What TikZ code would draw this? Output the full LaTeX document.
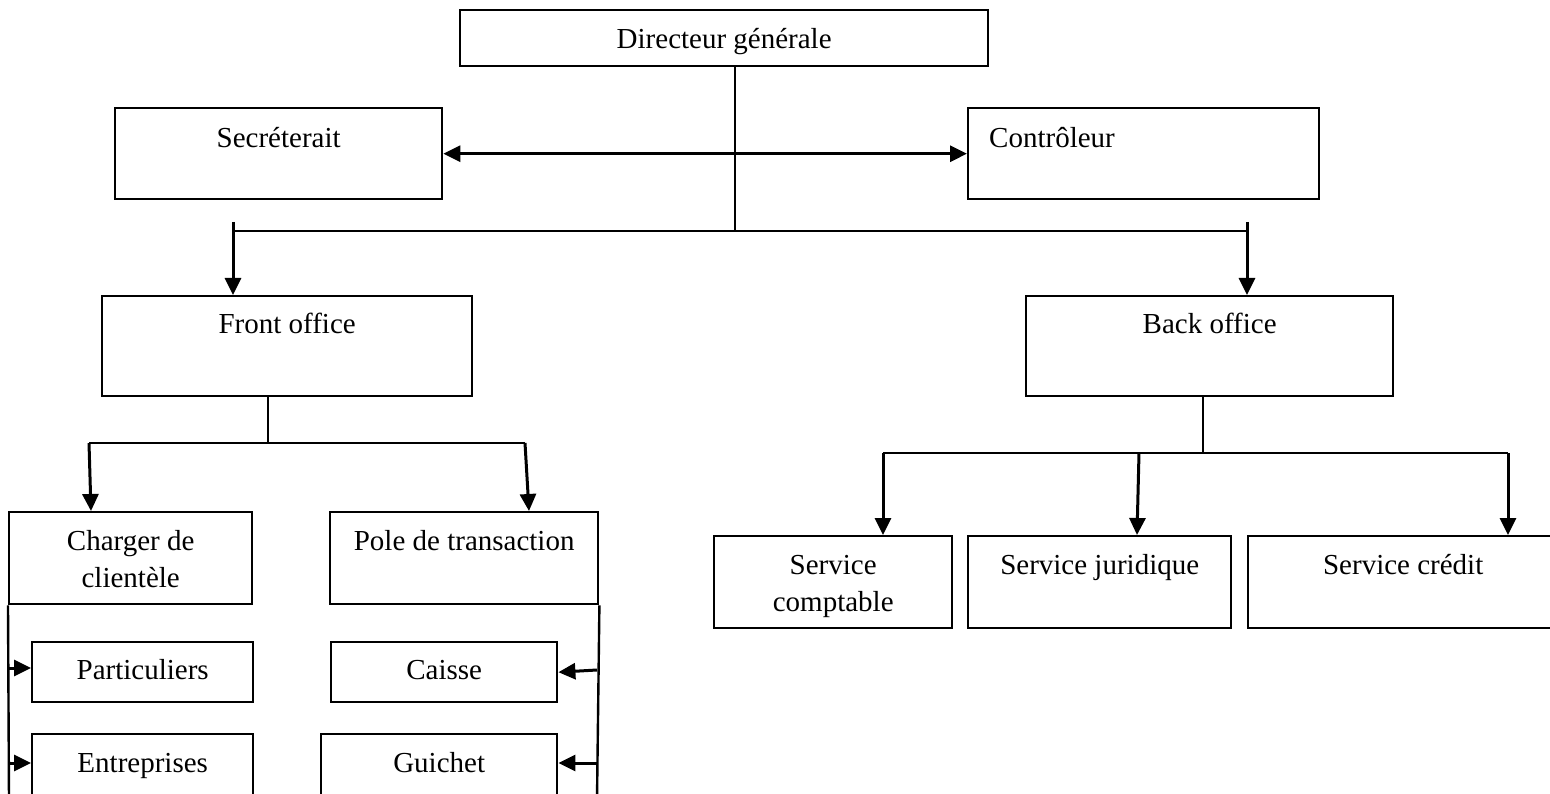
\documentclass[tikz,border=0pt]{standalone}
\usepackage{fontspec}
\setmainfont{Liberation Serif}
\usetikzlibrary{arrows.meta}
\newcommand{\tb}[4]{\parbox[c][#2pt][t]{#1pt}{\centering\vspace*{\dimexpr#3pt-0.7\baselineskip\relax}\strut #4}}
\newcommand{\tbl}[5]{\parbox[c][#2pt][t]{#1pt}{\raggedright\vspace*{\dimexpr#3pt-0.7\baselineskip\relax}\strut\hspace*{#4pt}#5}}
\tikzset{
  box/.style={draw, line width=2.4pt, inner sep=0pt, anchor=north west, font=\fontsize{29}{37}\selectfont},
  ln/.style={line width=2pt},
  arr/.style={line width=3pt, -{Triangle[length=17pt,width=16pt]}},
  darr/.style={line width=3pt, {Triangle[length=17pt,width=16pt]}-{Triangle[length=17pt,width=16pt]}}
}
\begin{document}
\begin{tikzpicture}[x=1pt,y=-1pt]
\useasboundingbox (0,0) rectangle (1550,794);
\clip (0,0) rectangle (1550,794);
% boxes
\node[box] (dg) at (459,9) {\tb{528}{56}{38}{Directeur générale}};
\node[box] (sec) at (114,107) {\tb{327}{91}{39}{Secréterait}};
\node[box] (ctrl) at (967,107) {\tbl{351}{91}{39}{21}{Contrôleur}};
\node[box] (fo) at (101,295) {\tb{370}{100}{37}{Front office}};
\node[box] (bo) at (1025,295) {\tb{367}{100}{37}{Back office}};
\node[box] (ch) at (8,511) {\tb{243}{92}{38}{Charger de\\ clientèle}};
\node[box] (pt) at (329,511) {\tb{268}{92}{38}{Pole de transaction}};
\node[box] (part) at (31,641) {\tb{221}{60}{37}{Particuliers}};
\node[box] (cai) at (330,641) {\tb{226}{60}{37}{Caisse}};
\node[box] (ent) at (31,733) {\tb{221}{80}{38}{Entreprises}};
\node[box] (gui) at (320,733) {\tb{236}{80}{38}{Guichet}};
\node[box] (sc) at (713,535) {\tb{238}{92}{38}{Service\\ comptable}};
\node[box] (sj) at (967,535) {\tb{263}{92}{38}{Service juridique}};
\node[box] (scr) at (1247,535) {\tb{310}{92}{38}{Service crédit}};
% coordinates
\coordinate (j1) at (735,231);
\coordinate (hl) at (233,231);
\coordinate (hr) at (1247,231);
\coordinate (fl) at (233,222);
\coordinate (fr) at (1247,222);
\coordinate (f1) at (268,443);
\coordinate (fhl) at (89,443);
\coordinate (fhr) at (525,443);
\coordinate (fa1) at (91,511);
\coordinate (fa2) at (529,511);
\coordinate (b1) at (1203,453);
\coordinate (bhl) at (883,453);
\coordinate (bhm) at (1139,453);
\coordinate (bhr) at (1508,453);
\coordinate (ba2) at (1137,535);
\coordinate (lb) at (9,800);
\coordinate (rb) at (597,800);
\coordinate (la1) at (9,668);
\coordinate (la2) at (9,763);
\coordinate (ra1) at (597,670);
\coordinate (ra2) at (597,763);
% connectors
\draw[ln] (dg.south -| j1) -- (j1);
\draw[darr] (sec.east) -- (ctrl.west);
\draw[ln] (hl) -- (hr);
\draw[arr] (fl) -- (fl |- fo.north);
\draw[arr] (fr) -- (fr |- bo.north);
\draw[ln] (fo.south -| f1) -- (f1);
\draw[ln] (fhl) -- (fhr);
\draw[arr] (fhl) -- (fa1);
\draw[arr] (fhr) -- (fa2);
\draw[ln] (bo.south -| b1) -- (b1);
\draw[ln] (bhl) -- (bhr);
\draw[arr] (bhl) -- (bhl |- sc.north);
\draw[arr] (bhm) -- (ba2);
\draw[arr] (bhr) -- (bhr |- scr.north);
\draw[line width=2.4pt] (ch.south west) -- (lb);
\draw[line width=2.4pt] (pt.south east) -- (rb);
\draw[arr] (la1) -- (la1 -| part.west);
\draw[arr] (la2) -- (la2 -| ent.west);
\draw[arr] (ra1) -- (cai.east);
\draw[arr] (ra2) -- (ra2 -| gui.east);
\end{tikzpicture}
\end{document}
